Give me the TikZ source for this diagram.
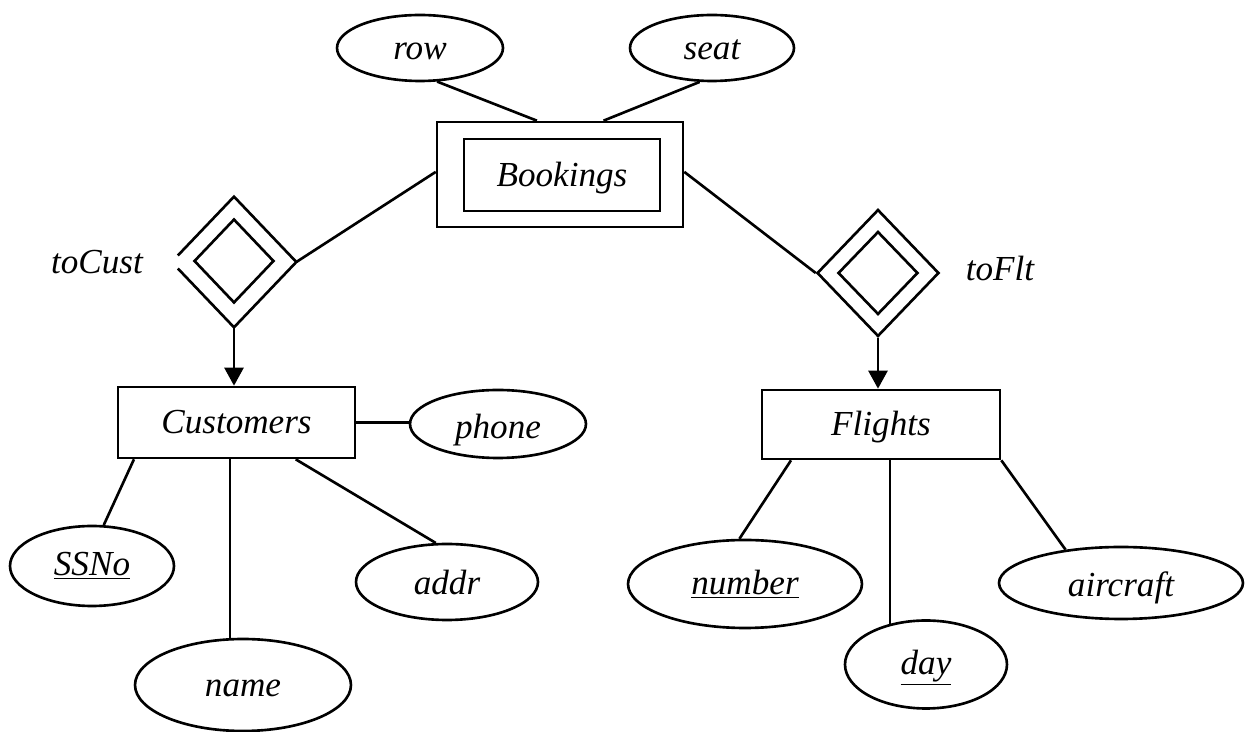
\documentclass[tikz,border=0pt]{standalone}
\usepackage{fontspec}
\setmainfont{Liberation Serif}
\usetikzlibrary{shapes.geometric,arrows.meta,calc}
\newcommand\lowerby[2]{\raisebox{-#1}[\height][\depth]{#2}}
\begin{document}
\begin{tikzpicture}[x=0.02cm,y=-0.02cm,
  every node/.style={font=\fontsize{20}{24}\selectfont\itshape},
  ln/.style={line width=1.5pt},
  ent/.style={draw,ln,rectangle,inner sep=0pt},
  attr/.style={draw,ln,ellipse,inner sep=0pt},
  rel/.style={diamond,inner sep=0pt},
  arr/.style={ln,-{Triangle[length=0.36cm,width=0.38cm]}}]
\useasboundingbox (0,0) rectangle (1249,732);
\fill[white] (0,0) rectangle (1249,732);
% Bookings (weak entity)
\node[ent,minimum width=4.92cm,minimum height=2.1cm] (bko) at (560,174.5) {};
\node[ent,minimum width=3.92cm,minimum height=1.44cm] (bki) at (562,175) {\lowerby{1.7pt}{Bookings}};
% attributes of Bookings
\node[attr,minimum width=3.32cm,minimum height=1.32cm] (row) at (420,48) {\lowerby{2.2pt}{row}};
\node[attr,minimum width=3.28cm,minimum height=1.32cm] (seat) at (712,48) {\lowerby{1pt}{seat}};
% relationships
\node[rel,minimum width=2.48cm,minimum height=2.6cm] (dc) at (234,262) {};
\node[rel,draw,ln,minimum width=1.6cm,minimum height=1.68cm] (dci) at (234,261) {};
\draw[ln] ($(dc.north)!0.9!(dc.west)$) -- (dc.north) -- (dc.east) -- (dc.south) -- ($(dc.south)!0.9!(dc.west)$);
\node[rel,draw,ln,minimum width=2.44cm,minimum height=2.54cm] (df) at (878,273) {};
\node[rel,draw,ln,minimum width=1.6cm,minimum height=1.66cm] (dfi) at (878,273) {};
\node (lc) at (97,262) {toCust};
\node (lf) at (1000,268) {toFlt};
% entities
\node[ent,minimum width=4.74cm,minimum height=1.42cm] (cust) at (236.5,422.5) {Customers};
\node[ent,minimum width=4.76cm,minimum height=1.38cm] (flt) at (881,424.5) {\lowerby{1.4pt}{Flights}};
% attributes
\node[attr,minimum width=3.52cm,minimum height=1.36cm] (phone) at (498,424) {\lowerby{3.4pt}{phone}};
\node[attr,minimum width=3.28cm,minimum height=1.6cm] (ssno) at (92,566) {\underline{SSNo}};
\node[attr,minimum width=4.32cm,minimum height=1.84cm] (name) at (243,685) {\lowerby{1.7pt}{name}};
\node[attr,minimum width=3.64cm,minimum height=1.52cm] (addr) at (447,582) {addr};
\node[attr,minimum width=4.68cm,minimum height=1.76cm] (number) at (745,584) {\underline{number}};
\node[attr,minimum width=3.24cm,minimum height=1.76cm] (day) at (926,664.5) {\lowerby{1.7pt}{\underline{day}}};
\node[attr,minimum width=4.88cm,minimum height=1.44cm] (aircraft) at (1121,583) {\lowerby{2.8pt}{aircraft}};
% connectors
\draw[ln] (row.-63) -- ($(bko.north west)!0.407!(bko.north east)$);
\draw[ln] (seat.-110) -- ($(bko.north west)!0.675!(bko.north east)$);
\draw[ln] ($(bko.north west)!0.476!(bko.south west)$) -- (dc.east);
\draw[ln] ($(bko.north east)!0.476!(bko.south east)$) -- (df.west);
\draw[arr] (dc.south) -- (dc.south |- cust.north);
\draw[arr] (df.south) -- (df.south |- flt.north);
\draw[ln] (cust.east) -- (phone.west |- cust.east);
\draw[ln] ($(cust.south west)!0.072!(cust.south east)$) -- (ssno.74);
\draw[ln] ($(cust.south west)!0.473!(cust.south east)$) coordinate (c1) -- (c1 |- name.north);
\draw[ln] ($(cust.south west)!0.747!(cust.south east)$) -- (addr.106);
\draw[ln] ($(flt.south west)!0.126!(flt.south east)$) -- (number.97);
\draw[ln] ($(flt.south west)!0.538!(flt.south east)$) coordinate (f1) -- (f1 |- day.131);
\draw[ln] (flt.south east) -- (aircraft.149);
\end{tikzpicture}
\end{document}
